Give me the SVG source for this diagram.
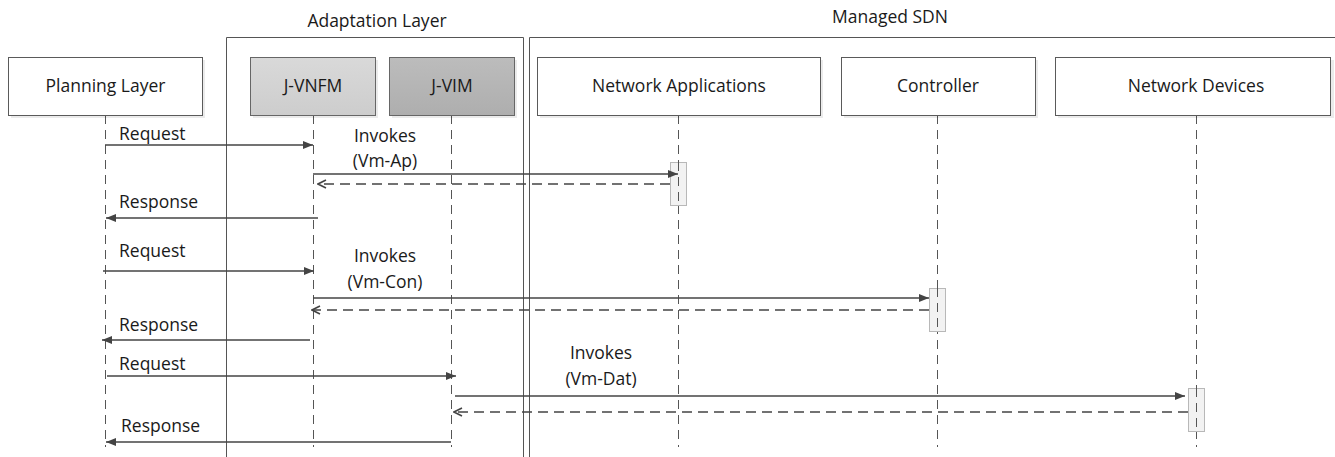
<svg xmlns="http://www.w3.org/2000/svg" width="1335" height="457" viewBox="0 0 1335 457">
  <style>
    .lbl { font-family: "Open Sans", Lato, "Liberation Sans", sans-serif; font-size: 17.5px; fill: #1a1a1a; }
    .mid { text-anchor: middle; }
    .frame { fill: none; stroke: #555; stroke-width: 1; }
    .head { fill: #fff; stroke: #5a5a5a; stroke-width: 1; }
    .life { stroke: #555; stroke-width: 1; stroke-dasharray: 9 6; fill: none; }
    .act { fill: #f2f2f2; stroke: #b8b8b8; stroke-width: 1; }
    .call { stroke: #444; stroke-width: 1.6; fill: none; marker-end: url(#solidHead); }
    .ret { stroke: #444; stroke-width: 1.6; fill: none; stroke-dasharray: 10 6; marker-end: url(#openHead); }
    .shadow { fill: #000; opacity: 0.08; }
  </style>
  <defs>
    <marker id="solidHead" viewBox="0 0 10 8" refX="10" refY="4" markerWidth="10" markerHeight="8" markerUnits="userSpaceOnUse" orient="auto">
      <path d="M0,0 L10,4 L0,8 Z" fill="#444"/>
    </marker>
    <marker id="openHead" viewBox="0 0 10 10" refX="9" refY="5" markerWidth="10" markerHeight="10" markerUnits="userSpaceOnUse" orient="auto">
      <path d="M1,1 L9,5 L1,9" fill="none" stroke="#444" stroke-width="1.6"/>
    </marker>
    <linearGradient id="gVnfm" x1="0" y1="0" x2="0" y2="1">
      <stop offset="0" stop-color="#d9d9d9"/>
      <stop offset="1" stop-color="#cdcdcd"/>
    </linearGradient>
    <linearGradient id="gVim" x1="0" y1="0" x2="0" y2="1">
      <stop offset="0" stop-color="#bcbcbc"/>
      <stop offset="1" stop-color="#aeaeae"/>
    </linearGradient>
  </defs>

  <rect width="1335" height="457" fill="#fff"/>

  <!-- layer frames -->
  <g id="adaptation-layer">
    <text class="lbl mid" x="377" y="27">Adaptation Layer</text>
    <path class="frame" d="M226.5,470 V37.5 H523.5 V470"/>
  </g>
  <g id="managed-sdn">
    <text class="lbl mid" x="890" y="23">Managed SDN</text>
    <path class="frame" d="M529.5,470 V37.5 H1340"/>
  </g>

  <!-- lifelines -->
  <g id="lifelines">
    <line class="life" x1="105.5" y1="115" x2="105.5" y2="447"/>
    <line class="life" x1="313.5" y1="115" x2="313.5" y2="447"/>
    <line class="life" x1="451.5" y1="115" x2="451.5" y2="447"/>
    <line class="life" x1="678.5" y1="115" x2="678.5" y2="447"/>
    <line class="life" x1="937.5" y1="115" x2="937.5" y2="447"/>
    <line class="life" x1="1196.5" y1="115" x2="1196.5" y2="447"/>
  </g>

  <!-- participants -->
  <g id="planning-layer">
    <rect class="shadow" x="11" y="60" width="194" height="58"/>
    <rect class="head" x="8.5" y="57.5" width="194" height="58"/>
    <text class="lbl mid" x="105.5" y="92">Planning Layer</text>
  </g>
  <g id="j-vnfm">
    <rect class="shadow" x="253" y="60" width="125" height="58"/>
    <rect x="250.5" y="57.5" width="125" height="58" fill="url(#gVnfm)" stroke="#666"/>
    <text class="lbl mid" x="313" y="92">J-VNFM</text>
  </g>
  <g id="j-vim">
    <rect class="shadow" x="392" y="60" width="125" height="58"/>
    <rect x="389.5" y="57.5" width="125" height="58" fill="url(#gVim)" stroke="#666"/>
    <text class="lbl mid" x="452" y="92">J-VIM</text>
  </g>
  <g id="network-applications">
    <rect class="shadow" x="540" y="60" width="283" height="58"/>
    <rect class="head" x="537.5" y="57.5" width="283" height="58"/>
    <text class="lbl mid" x="679" y="92">Network Applications</text>
  </g>
  <g id="controller">
    <rect class="shadow" x="844" y="60" width="194" height="58"/>
    <rect class="head" x="841.5" y="57.5" width="194" height="58"/>
    <text class="lbl mid" x="938" y="92">Controller</text>
  </g>
  <g id="network-devices">
    <rect class="shadow" x="1058" y="60" width="276" height="58"/>
    <rect class="head" x="1055.5" y="57.5" width="275" height="58"/>
    <text class="lbl mid" x="1196" y="92">Network Devices</text>
  </g>

  <!-- activation bars -->
  <g id="activations">
    <rect class="act" x="670.5" y="162.5" width="16" height="43"/>
    <line class="life" x1="678.5" y1="162" x2="678.5" y2="206"/>
    <rect class="act" x="929.5" y="288.5" width="16" height="43"/>
    <line class="life" x1="937.5" y1="288" x2="937.5" y2="332"/>
    <rect class="act" x="1188.5" y="388.5" width="16" height="43"/>
    <line class="life" x1="1196.5" y1="388" x2="1196.5" y2="432"/>
  </g>

  <!-- messages -->
  <g id="connectors">
    <line class="call" x1="105" y1="145" x2="313" y2="145"/>
    <line class="call" x1="313" y1="174" x2="678" y2="174"/>
    <line class="ret" x1="670" y1="184" x2="318" y2="184"/>
    <line class="call" x1="318" y1="218" x2="106" y2="218"/>

    <line class="call" x1="103" y1="271" x2="314" y2="271"/>
    <line class="call" x1="313" y1="298" x2="929" y2="298"/>
    <line class="ret" x1="929" y1="310" x2="312" y2="310"/>
    <line class="call" x1="310" y1="340" x2="102" y2="340"/>

    <line class="call" x1="107" y1="376" x2="456" y2="376"/>
    <line class="call" x1="455" y1="396" x2="1185" y2="396"/>
    <line class="ret" x1="1188" y1="412" x2="454" y2="412"/>
    <line class="call" x1="451" y1="442" x2="106" y2="442"/>
  </g>

  <!-- message labels -->
  <g id="message-labels">
    <text class="lbl" x="119" y="140">Request</text>
    <text class="lbl mid" x="385" y="142">Invokes</text>
    <text class="lbl mid" x="385" y="167">(Vm-Ap)</text>
    <text class="lbl" x="119" y="208">Response</text>

    <text class="lbl" x="119" y="257">Request</text>
    <text class="lbl mid" x="385" y="262">Invokes</text>
    <text class="lbl mid" x="385" y="288">(Vm-Con)</text>
    <text class="lbl" x="119" y="331">Response</text>

    <text class="lbl" x="119" y="370">Request</text>
    <text class="lbl mid" x="601" y="359">Invokes</text>
    <text class="lbl mid" x="601" y="385">(Vm-Dat)</text>
    <text class="lbl" x="121" y="432">Response</text>
  </g>
</svg>
